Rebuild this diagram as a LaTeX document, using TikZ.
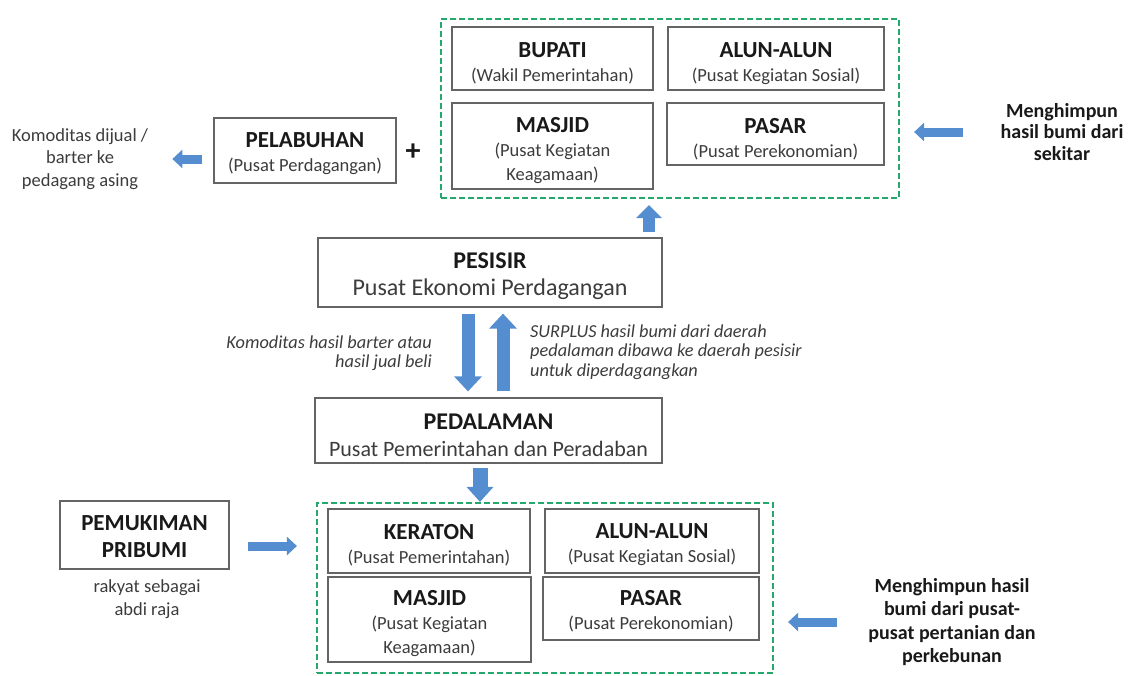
\documentclass[tikz,border=0pt]{standalone}
\usepackage{fontspec}
\setmainfont{Carlito}
\usetikzlibrary{arrows.meta}
\definecolor{ablue}{RGB}{84,141,208}
\definecolor{dgreen}{RGB}{38,168,108}
\definecolor{bord}{RGB}{100,100,100}
\definecolor{ttlc}{RGB}{25,25,25}
\definecolor{subc}{RGB}{60,60,60}
\newcommand\boxttl[1]{{\fontsize{23}{24}\selectfont\bfseries\color{ttlc}#1}}
\newcommand\bigttl[1]{{\fontsize{24}{27}\selectfont\bfseries\color{ttlc}#1}}
\begin{document}
\begin{tikzpicture}[x=1pt,y=-1pt,
  box/.style={draw=bord, line width=1.2pt, inner sep=0pt},
  btxt/.style={align=center, inner sep=0pt, text=subc, font=\fontsize{18.5}{24}\selectfont},
  bigtxt/.style={btxt, font=\fontsize{24}{27}\selectfont},
  grp/.style={draw=dgreen, line width=2.2pt, dash pattern=on 6pt off 3pt, inner sep=0pt},
  plain/.style={align=center, inner sep=0pt, text=subc, font=\fontsize{18.5}{22.5}\selectfont},
  itl/.style={inner sep=0pt, text=subc, font=\fontsize{18.3}{19.3}\selectfont\itshape},
  boldtxt/.style={align=center, inner sep=0pt, text=ttlc, font=\fontsize{20}{21.5}\selectfont\bfseries},
  varrow/.style={draw=ablue, line width=13pt, -{Triangle[width=27pt,length=15pt]}},
  uarrow/.style={draw=ablue, line width=12pt, -{Triangle[width=25pt,length=13pt]}},
  darrow/.style={draw=ablue, line width=15pt, -{Triangle[width=26pt,length=15pt]}},
  harrow/.style={draw=ablue, line width=9pt, -{Triangle[width=18pt,length=10pt]}}]
\useasboundingbox (0,0) rectangle (1129,675);

% ---------- top group ----------
\node[grp, minimum width=458pt, minimum height=179pt] (grp1) at (670,108.5) {};
\node[box, minimum width=201pt, minimum height=63pt] (bupati) at (552.5,58.5) {};
\node[btxt] (bupatiT) at ([yshift=-5pt]bupati.center) {\boxttl{BUPATI}\\(Wakil Pemerintahan)};
\node[box, minimum width=216pt, minimum height=63pt] (alun1) at (776,58.5) {};
\node[btxt] (alun1T) at ([yshift=-5pt]alun1.center) {\boxttl{ALUN-ALUN}\\(Pusat Kegiatan Sosial)};
\node[box, minimum width=201pt, minimum height=86pt] (masjid1) at (552.5,146) {};
\node[btxt] (masjid1T) at ([yshift=-5pt]masjid1.center) {\boxttl{MASJID}\\(Pusat Kegiatan\\Keagamaan)};
\node[box, minimum width=217pt, minimum height=62pt] (pasar1) at (775.5,134) {};
\node[btxt] (pasar1T) at ([yshift=-5pt]pasar1.center) {\boxttl{PASAR}\\(Pusat Perekonomian)};

\node[box, minimum width=182pt, minimum height=65pt] (pelabuhan) at (305,150.5) {};
\node[btxt] (pelabuhanT) at ([yshift=-3pt]pelabuhan.center) {\boxttl{PELABUHAN}\\(Pusat Perdagangan)};
\node[inner sep=0pt, text=ttlc, font=\fontsize{30}{30}\selectfont\bfseries] (plus) at (413,152) {+};
\node[plain] (kom) at (80,159) {Komoditas dijual /\\barter ke\\pedagang asing};
\node[boldtxt] (mh1) at (1062,132) {Menghimpun\\hasil bumi dari\\sekitar};

\draw[harrow] ([xshift=-11pt]pelabuhan.west |- kom.east) -- ([xshift=24pt]kom.east);
\draw[harrow] ([xshift=-99pt]mh1.center) -- ([xshift=14pt]grp1.east |- mh1.center);

% ---------- middle ----------
\node[box, minimum width=344pt, minimum height=69pt] (pesisir) at (490,272.5) {};
\node[bigtxt] (pesisirT) at ([yshift=-3.5pt]pesisir.center) {\bigttl{PESISIR}\\Pusat Ekonomi Perdagangan};
\node[box, minimum width=347pt, minimum height=65pt] (pedalaman) at (488.5,430.5) {};
\node[bigtxt, font=\fontsize{22}{27}\selectfont] (pedalamanT) at ([yshift=-4.5pt]pedalaman.center) {\bigttl{PEDALAMAN}\\Pusat Pemerintahan dan Peradaban};

\draw[uarrow] ([xshift=159pt,yshift=5pt]pesisir.north) -- ([xshift=-21pt,yshift=-6pt]grp1.south);
\draw[varrow] ([xshift=-22pt,yshift=-6pt]pesisir.south) -- ([xshift=-20.5pt,yshift=6pt]pedalaman.north);
\draw[varrow] ([xshift=14.5pt,yshift=6pt]pedalaman.north) -- ([xshift=13pt,yshift=-6pt]pesisir.south);

\node[itl, anchor=east, align=right] (komb) at (432,353)
  {Komoditas hasil barter atau\\hasil jual beli};
\node[itl, anchor=west, align=left] (surplus) at (530,352)
  {SURPLUS hasil bumi dari daerah\\pedalaman dibawa ke daerah pesisir\\untuk diperdagangkan};

% ---------- bottom group ----------
\node[grp, minimum width=456pt, minimum height=170pt] (grp2) at (545,588) {};
\node[box, minimum width=202pt, minimum height=64pt] (keraton) at (429,541) {};
\node[btxt] (keratonT) at ([yshift=-4pt]keraton.center) {\boxttl{KERATON}\\(Pusat Pemerintahan)};
\node[box, minimum width=214pt, minimum height=64pt] (alun2) at (652,541) {};
\node[btxt] (alun2T) at ([yshift=-4pt]alun2.center) {\boxttl{ALUN-ALUN}\\(Pusat Kegiatan Sosial)};
\node[box, minimum width=203pt, minimum height=85pt] (masjid2) at (429.5,619.5) {};
\node[btxt] (masjid2T) at ([yshift=-4pt]masjid2.center) {\boxttl{MASJID}\\(Pusat Kegiatan\\Keagamaan)};
\node[box, minimum width=216pt, minimum height=63pt] (pasar2) at (651,608.5) {};
\node[btxt] (pasar2T) at ([yshift=-3pt]pasar2.center) {\boxttl{PASAR}\\(Pusat Perekonomian)};

\draw[darrow] ([xshift=-8.5pt,yshift=-4pt]pedalaman.south) -- ([xshift=-65pt]grp2.north);

\node[box, minimum width=169pt, minimum height=68pt] (pemukiman) at (144.5,535) {};
\node[btxt, font=\fontsize{23}{27}\selectfont] (pemukimanT) at ([yshift=-2pt]pemukiman.center)
  {\boxttl{PEMUKIMAN}\\\boxttl{PRIBUMI}};
\node[plain] (rakyat) at (147,599) {rakyat sebagai\\abdi raja};
\draw[harrow] ([xshift=18pt,yshift=-11pt]pemukiman.east) -- ([xshift=-19pt,yshift=42pt]grp2.west);

\node[boldtxt, font=\fontsize{20}{23.5}\selectfont\bfseries] (mh2) at (952,622)
  {Menghimpun hasil\\bumi dari pusat-\\pusat pertanian dan\\perkebunan};
\draw[harrow] ([xshift=-115pt]mh2.center) -- ([xshift=14pt,yshift=-34pt]grp2.east);
\end{tikzpicture}
\end{document}
